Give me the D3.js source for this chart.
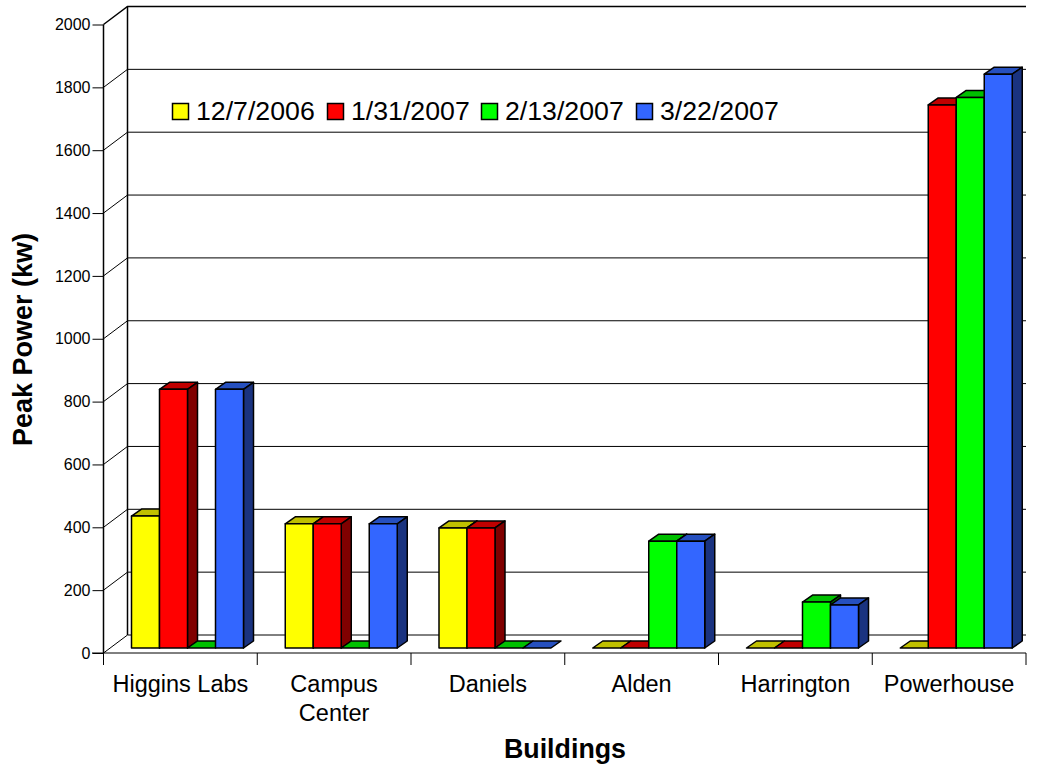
<!DOCTYPE html>
<html>
<head>
<meta charset="utf-8">
<script src="https://cdn.jsdelivr.net/npm/d3@7"></script>
<style>
  html, body { margin: 0; background: #fff; }
  svg { display: block; font-family: "Liberation Sans", Arial, sans-serif; }
</style>
</head>
<body>
<svg id="chart" width="1038" height="765"></svg>
<script>
const buildings = ['Higgins Labs', 'Campus Center', 'Daniels', 'Alden', 'Harrington', 'Powerhouse']
const dates = ['12/7/2006', '1/31/2007', '2/13/2007', '3/22/2007']
const yTicks = [0, 200, 400, 600, 800, 1000, 1200, 1400, 1600, 1800, 2000]

const peak20061207 = [420, 395, 382, 0, 0, 0]
const peak20070131 = [823, 395, 382, 0, 0, 1728]
const peak20070213 = [0, 0, 0, 340, 146, 1752]
const peak20070322 = [823, 395, 0, 340, 137, 1826]
const seriesValues = [peak20061207, peak20070131, peak20070213, peak20070322]

const frontColors = ['#ffff00', '#ff0000', '#00ff00', '#3366ff']
const topColors = ['#c0c000', '#c00000', '#00c000', '#2650bf']
const sideColors = ['#808000', '#800000', '#008000', '#1a3380']

const svg = d3.select('#chart')

const x = d3.scaleBand().domain(buildings).range([103.5, 1026])
const seriesX = d3.scaleBand().domain(dates).range([28, 140])
const y = d3.scaleLinear().domain([0, 2000]).range([653, 24.5])

// wall depth, and where the bars stand on the floor
const wallDx = 24
const wallDy = -18
const barDx = 10
const barDy = -7
const barLift = -5

// side wall and back wall
const walls = svg.append('g').attr('fill', 'none').attr('stroke', '#000')

walls.selectAll('.grid')
  .data(yTicks)
  .enter()
  .append('path')
  .attr('stroke-width', d => d === 2000 ? 1.5 : 1)
  .attr('d', d => `M${103.5},${y(d)}L${103.5 + wallDx},${y(d) + wallDy}L1026,${y(d) + wallDy}`)

walls.append('path')
  .attr('stroke-width', 1.5)
  .attr('d', `M103.5,${y(0)}V${y(2000)}M${103.5 + wallDx},${y(0) + wallDy}V${y(2000) + wallDy}`)

// axes
const yAxis = d3.axisLeft(y).tickValues(yTicks).tickSize(11).tickPadding(2).tickFormat(d => d)
const gy = svg.append('g').attr('transform', 'translate(103.5,0)').call(yAxis)
gy.attr('font-family', null)
gy.select('.domain').remove()
gy.selectAll('text').attr('font-size', 16).attr('fill', '#000')

const gx = svg.append('g').attr('transform', `translate(0,${y(0)})`)
gx.append('path').attr('stroke', '#000').attr('fill', 'none').attr('d', 'M92,0H1026')
gx.selectAll('.tick')
  .data([103.5].concat(buildings.map(d => x(d) + x.bandwidth())))
  .enter()
  .append('line')
  .attr('stroke', '#000')
  .attr('x1', d => d)
  .attr('x2', d => d)
  .attr('y2', 12)

gx.selectAll('.label')
  .data(buildings)
  .enter()
  .append('text')
  .attr('text-anchor', 'middle')
  .attr('font-size', 23.5)
  .attr('y', 39)
  .each(function (d) {
    const words = d === 'Campus Center' ? d.split(' ') : [d]
    d3.select(this).selectAll('tspan')
      .data(words)
      .enter()
      .append('tspan')
      .attr('x', x(d) + x.bandwidth() / 2)
      .attr('dy', (w, i) => i ? 29 : 0)
      .text(w => w)
  })

// bars, left to right so each one covers the side of the previous
const bars = svg.append('g').attr('stroke', '#000').attr('stroke-width', 1.5).attr('stroke-linejoin', 'round')

buildings.forEach((b, i) => {
  dates.forEach((date, s) => {
    const v = seriesValues[s][i]
    const x0 = x(b) + seriesX(date)
    const x1 = x0 + seriesX.bandwidth()
    const base = y(0) + barLift
    const top = y(v) + barLift

    bars.append('path')
      .attr('fill', topColors[s])
      .attr('d', `M${x0},${top}L${x0 + barDx},${top + barDy}H${x1 + barDx}L${x1},${top}Z`)

    if (v > 0) {
      bars.append('path')
        .attr('fill', sideColors[s])
        .attr('d', `M${x1},${top}L${x1 + barDx},${top + barDy}V${base + barDy}L${x1},${base}Z`)
      bars.append('rect')
        .attr('fill', frontColors[s])
        .attr('x', x0)
        .attr('y', top)
        .attr('width', x1 - x0)
        .attr('height', base - top)
    }
  })
})

// legend
const legendSwatchX = [172, 327, 481, 636]
const legend = svg.append('g')
  .selectAll('g')
  .data(dates)
  .enter()
  .append('g')
  .attr('transform', (d, i) => `translate(${legendSwatchX[i]},103)`)

legend.append('rect')
  .attr('x', 0.5)
  .attr('y', 0.5)
  .attr('width', 16)
  .attr('height', 16)
  .attr('fill', (d, i) => frontColors[i])
  .attr('stroke', '#000')
  .attr('stroke-width', 1.5)

legend.append('text')
  .attr('x', 24)
  .attr('y', 17)
  .attr('font-size', 26.7)
  .text(d => d)

// axis titles
svg.append('text')
  .attr('x', 565)
  .attr('y', 758)
  .attr('text-anchor', 'middle')
  .attr('font-size', 26.8)
  .attr('font-weight', 'bold')
  .text('Buildings')

svg.append('text')
  .attr('transform', 'translate(32,339.5) rotate(-90)')
  .attr('text-anchor', 'middle')
  .attr('font-size', 27)
  .attr('font-weight', 'bold')
  .text('Peak Power (kw)')
</script>
</body>
</html>
